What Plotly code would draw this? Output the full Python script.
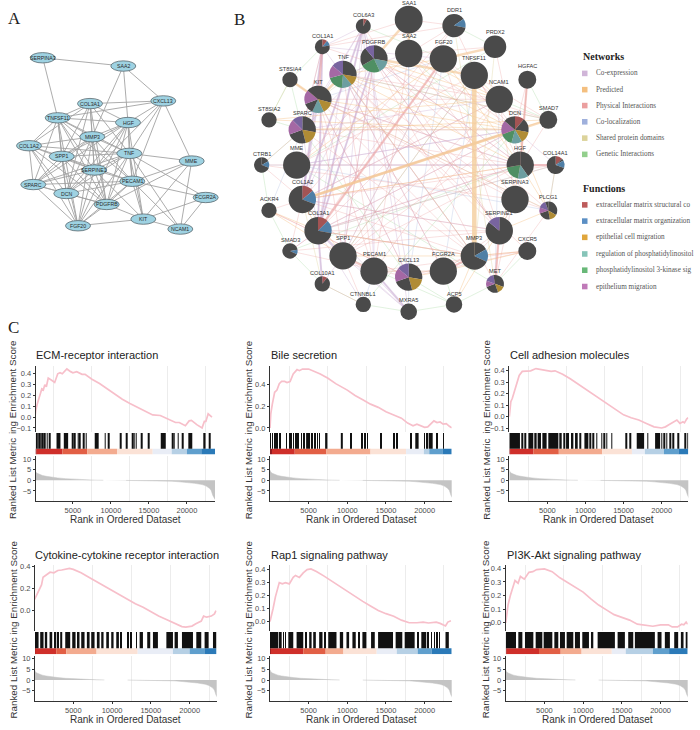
import plotly.graph_objects as go

W, H = 700, 730

# ---------- Panel A: STRING style network ----------
a_genes = ["SERPINA3","SAA2","CXCL13","COL3A1","TNFSF11","HGF","MMP3","COL1A2","SPP1","TNF","MME",
           "SERPINE1","PECAM1","SPARC","DCN","FCGR2A","PDGFRB","KIT","NCAM1","FGF20"]
a_x = [42.7,123.3,163.3,90,57.7,128,92.3,29,61.7,129.3,191.7,94.3,132.3,33.3,66.3,205.7,106.7,143.3,180.3,78]
a_y = [55,63.3,98.3,101,115.3,120,134.3,143.3,154,151,158.7,167.7,179,182.3,191.3,195.3,202.3,217,227,223.7]
a_edges = """SERPINA3-SAA2 SERPINA3-TNFSF11 SAA2-CXCL13 SAA2-HGF SAA2-MMP3 CXCL13-COL3A1 CXCL13-TNFSF11 CXCL13-HGF CXCL13-TNF CXCL13-MME CXCL13-PECAM1 CXCL13-SERPINE1
COL3A1-TNFSF11 COL3A1-MMP3 COL3A1-HGF COL3A1-TNF COL3A1-SPP1 COL3A1-SERPINE1 COL3A1-COL1A2 COL3A1-DCN COL3A1-PDGFRB
TNFSF11-HGF TNFSF11-MMP3 TNFSF11-COL1A2 TNFSF11-SPP1 TNFSF11-TNF TNFSF11-SERPINE1 TNFSF11-PECAM1 TNFSF11-SPARC TNFSF11-DCN TNFSF11-PDGFRB TNFSF11-FGF20
HGF-MMP3 HGF-SPP1 HGF-TNF HGF-SERPINE1 HGF-PECAM1 HGF-DCN HGF-PDGFRB HGF-KIT HGF-FGF20 HGF-SPARC
MMP3-COL1A2 MMP3-SPP1 MMP3-TNF MMP3-SERPINE1 MMP3-PECAM1 MMP3-SPARC MMP3-DCN MMP3-PDGFRB MMP3-FGF20
COL1A2-SPP1 COL1A2-SPARC COL1A2-DCN COL1A2-SERPINE1 COL1A2-PDGFRB COL1A2-TNF COL1A2-FGF20
SPP1-TNF SPP1-SERPINE1 SPP1-PECAM1 SPP1-SPARC SPP1-DCN SPP1-PDGFRB SPP1-FGF20
TNF-MME TNF-SERPINE1 TNF-PECAM1 TNF-SPARC TNF-DCN TNF-PDGFRB TNF-KIT TNF-NCAM1 TNF-FCGR2A TNF-FGF20
MME-PECAM1 MME-PDGFRB MME-KIT MME-NCAM1
SERPINE1-PECAM1 SERPINE1-SPARC SERPINE1-DCN SERPINE1-PDGFRB SERPINE1-FGF20 SERPINE1-KIT
PECAM1-FCGR2A PECAM1-PDGFRB PECAM1-KIT PECAM1-NCAM1 PECAM1-FGF20 PECAM1-SPARC PECAM1-DCN
SPARC-DCN SPARC-PDGFRB SPARC-FGF20 DCN-PDGFRB DCN-FGF20 FCGR2A-KIT FCGR2A-NCAM1 PDGFRB-KIT PDGFRB-FGF20 KIT-NCAM1 KIT-FGF20""".split()

# ---------- Panel B: GeneMANIA style network ----------
b_genes = ["SAA1","COL6A3","DDR1","PRDX2","COL1A1","PDGFRB","SAA2","FGF20","TNF","TNFSF11","ST8SIA4","HGFAC","KIT","NCAM1",
           "ST8SIA2","SMAD7","SPARC","DCN","CTRB1","MME","HGF","COL14A1","ACKR4","COL1A2","SERPINA3","PLCG1","COL3A1",
           "SERPINE1","SMAD3","CXCR5","SPP1","MMP3","COL10A1","PECAM1","CXCL13","FCGR2A","MET","CTNNBL1","ACP5","MXRA5"]
b_x = [408.7,363.3,454,495,322.3,374,408.7,443.3,343,474.3,290,527.3,318,499.3,269,548.3,302.3,515,261.7,296.7,520.3,555.7,
       269,302.3,515,548.3,318,499.3,290,527.3,343,474.3,322.3,374,408.7,443.3,495,363.3,454,408.7]
b_y = [16.7,23.3,22.7,44,44,56,50.7,56,71.7,72.7,77,77,96.7,96.7,117.3,117.3,127.3,127.3,162.7,162.7,162.7,162.7,
       208.3,197.3,197.3,208.3,228.7,228.7,249,249,254,254,282,269.3,275.3,269.3,282,302.7,302.7,310]
b_r = [14,7.5,11.7,11.3,7.5,13.7,13.7,13.7,13.7,13.7,7.7,9,13.7,13.7,7.7,9,13.7,13.7,7.7,13.7,13.7,9,
       7.7,13.7,13.7,9,13.7,13.7,7.7,9,13.7,13.7,7.7,13.7,13.7,13.7,9,7.7,8.3,8.3]
b_label_y = [0,12.3,7.5,29.3,33.3,39,33.3,39,54.7,55,66,63.7,79.7,79.7,106.7,105,110.7,110.7,151.7,145.7,145.7,150.7,
             197.3,180,180,195.3,211.3,211.3,238,237.3,236,236,271,252.3,257.7,252.3,269.3,291.7,291.7,298.7]
# pie slices in degrees, clockwise from twelve o'clock (d = no function)
b_slices = {
    "COL6A3": [("r",28),("d",332)],
    "DDR1": [("d",55),("b",45),("d",260)],
    "COL1A1": [("r",40),("b",40),("d",280)],
    "PDGFRB": [("d",100),("t",55),("g",85),("d",80),("p",40)],
    "TNF": [("d",100),("n",40),("t",45),("g",70),("m",55),("p",50)],
    "KIT": [("d",105),("n",50),("t",50),("d",45),("m",60),("d",50)],
    "SPARC": [("d",100),("n",65),("d",85),("m",65),("p",45)],
    "DCN": [("r",40),("d",60),("n",50),("t",45),("g",55),("m",60),("d",50)],
    "CTRB1": [("d",60),("b",50),("d",250)],
    "HGF": [("d",145),("t",45),("g",70),("d",100)],
    "COL14A1": [("r",45),("d",15),("b",50),("d",250)],
    "COL1A2": [("r",50),("b",60),("d",250)],
    "PLCG1": [("d",120),("n",50),("d",80),("m",40),("p",50),("d",20)],
    "COL3A1": [("r",45),("b",55),("d",260)],
    "SERPINE1": [("d",310),("p",50)],
    "SMAD3": [("d",80),("b",35),("d",245)],
    "MMP3": [("d",60),("b",55),("d",245)],
    "COL10A1": [("r",38),("d",322)],
    "CXCL13": [("d",100),("n",65),("d",85),("m",60),("p",50)],
    "MET": [("d",110),("n",50),("d",90),("m",40),("p",60),("d",10)],
}
slice_colors = {"d":"#4a4a4a","r":"#a35454","b":"#4f7fa6","n":"#b08c35","t":"#6c9ea0",
                "g":"#4f8f63","m":"#a468a4","p":"#78649f"}

edges_coexp = """COL6A3-COL3A1 COL6A3-COL1A2 COL6A3-COL1A1 COL6A3-SPARC COL6A3-PDGFRB COL6A3-KIT COL1A1-COL3A1 COL1A1-COL1A2 COL1A1-SPARC
PDGFRB-COL3A1 PDGFRB-COL1A2 PDGFRB-SPARC TNF-COL3A1 SPARC-COL3A1 SPARC-COL1A2 MXRA5-COL3A1 MXRA5-COL1A2 MXRA5-SPP1 MXRA5-COL6A3 MXRA5-PECAM1
COL10A1-COL3A1 COL10A1-SPP1 COL14A1-DCN COL14A1-COL3A1 DCN-COL1A2 DCN-COL3A1 DCN-SPARC DCN-MME HGF-COL3A1 HGF-PDGFRB HGF-KIT
SERPINE1-COL1A2 SERPINE1-PDGFRB MMP3-COL3A1 MMP3-COL1A1 MMP3-TNF FCGR2A-PECAM1 FCGR2A-TNF CXCL13-KIT CXCL13-COL6A3 MME-DCN MME-COL14A1
NCAM1-COL1A2 NCAM1-SPARC SMAD3-COL3A1 SPP1-COL6A3 SPP1-PDGFRB PECAM1-PDGFRB PECAM1-COL6A3 CTNNBL1-COL3A1 FGF20-COL1A1 SAA2-TNF""".split()
edges_coexp_thick = ["COL6A3-COL1A2","COL6A3-COL3A1","COL1A1-COL3A1","COL1A1-COL1A2","SPP1-COL3A1","PDGFRB-COL3A1","KIT-COL1A2","PECAM1-MXRA5","COL3A1-COL10A1"]

edges_pred = """COL1A2-HGF KIT-DCN SPARC-DCN ST8SIA2-DCN ST8SIA2-NCAM1 MME-FGF20 TNF-MMP3 PDGFRB-NCAM1 PDGFRB-DCN TNF-DCN TNF-HGF FGF20-HGF SAA2-NCAM1
SMAD7-DCN SMAD7-SPARC COL3A1-MMP3 SPP1-MMP3 FCGR2A-CXCR5 MMP3-CXCR5 PECAM1-FCGR2A CXCL13-FCGR2A SERPINE1-HGF SERPINE1-PLCG1 HGF-PLCG1 DCN-PLCG1
ACKR4-COL3A1 ACKR4-SPP1 ST8SIA4-KIT ACP5-SERPINE1 ACP5-MMP3 COL1A2-SPP1 COL1A2-COL3A1 FGF20-TNF TNFSF11-NCAM1""".split()
edges_pred_thick = ["TNFSF11-MMP3"]
edges_pred_mid = ["SAA1-SAA2","SAA1-PDGFRB","PDGFRB-TNFSF11","COL1A2-DCN","FGF20-PRDX2","TNF-KIT","ST8SIA4-KIT","SMAD7-COL1A2"]

edges_phys = """COL3A1-FGF20 COL3A1-TNFSF11 COL3A1-SERPINE1 COL3A1-DCN COL3A1-HGF COL3A1-MMP3 COL1A2-MMP3 COL1A2-SERPINE1 COL1A2-HGF COL1A2-NCAM1 COL1A2-COL14A1
SPP1-PDGFRB SPP1-KIT SPP1-TNFSF11 SPP1-FGF20 SPP1-NCAM1 SPP1-HGF SPP1-DCN PECAM1-KIT PECAM1-TNF PECAM1-SAA2 PECAM1-NCAM1 PECAM1-CXCR5
TNF-SERPINE1 TNF-SERPINA3 TNF-NCAM1 TNF-FCGR2A TNF-CXCR5 TNF-SMAD7 KIT-HGF KIT-SERPINA3 KIT-MMP3 KIT-NCAM1 KIT-CXCL13 KIT-PLCG1 PDGFRB-PLCG1 PDGFRB-MET PDGFRB-SERPINE1 PDGFRB-HGF
HGFAC-HGF HGFAC-DCN DDR1-COL1A2 DDR1-COL3A1 DDR1-SAA2 DDR1-HGF DDR1-COL1A1 MET-HGF MET-SERPINE1 MET-PLCG1 PLCG1-SERPINA3 PLCG1-COL14A1 COL14A1-HGF
SERPINE1-SERPINA3 SERPINE1-MMP3 SERPINE1-FCGR2A SERPINE1-COL6A3 MMP3-CXCL13 MMP3-CXCR5 MMP3-FCGR2A CTRB1-SERPINA3 CTRB1-COL1A2 CTRB1-MME CTRB1-SPARC ACKR4-CXCL13 ACKR4-COL1A2
SMAD3-SERPINE1 SMAD3-COL3A1 SMAD3-COL1A2 SMAD7-COL1A1 SMAD7-HGF CXCL13-ACKR4 CXCL13-CXCR5 CXCL13-SMAD3 MME-TNFSF11 MME-SAA2 MME-HGF SPARC-COL1A1 SPARC-MMP3 SPARC-HGF
CTNNBL1-COL10A1 CTNNBL1-SPP1 NCAM1-SERPINA3 NCAM1-FGF20 FGF20-SERPINE1 FGF20-DCN SAA1-DDR1 SAA1-COL1A1 SAA2-SERPINA3 SAA2-DCN TNFSF11-DCN TNFSF11-SMAD7 PRDX2-HGF PRDX2-SAA2""".split()
edges_phys_thick = ["COL3A1-FGF20","HGFAC-HGF","MMP3-FCGR2A","MET-SERPINE1","COL1A1-KIT","PECAM1-SPP1","COL14A1-HGF"]

edges_coloc = """SAA2-CXCL13 SPP1-FGF20 MME-PLCG1 NCAM1-MET FGF20-CXCL13 SPARC-ACKR4 CTNNBL1-PECAM1 TNFSF11-FCGR2A CTRB1-HGF KIT-FGF20 SAA2-MXRA5""".split()
edges_shared = """COL1A2-COL10A1 COL3A1-COL14A1 MMP3-PRDX2 ST8SIA2-ST8SIA4 SERPINA3-SERPINE1 DDR1-MET KIT-PDGFRB PLCG1-KIT HGF-HGFAC""".split()
edges_genetic = """ST8SIA4-ST8SIA2 ST8SIA4-SPARC ST8SIA2-SPARC CTRB1-ACKR4 ACKR4-SMAD3 SMAD3-COL10A1 COL10A1-CTNNBL1 CTNNBL1-MXRA5 MXRA5-ACP5 ACP5-CXCL13 ACP5-FCGR2A MET-ACP5
CXCR5-MET COL14A1-PLCG1 SMAD7-HGFAC NCAM1-SMAD7 DDR1-PRDX2 PRDX2-MME CTRB1-SPARC COL1A1-ST8SIA4 COL6A3-FGF20 SAA2-HGF HGF-SMAD3 MME-MET SPARC-CXCL13 DCN-CTNNBL1 ACP5-SPP1 TNFSF11-SPP1 SMAD7-TNF""".split()

network_names = ["Co-expression","Predicted","Physical Interactions","Co-localization","Shared protein domains","Genetic Interactions"]
network_colors = ["#d0b5d8","#f4bf7f","#eb9f9f","#9fb0dc","#dcd39b","#93cf8d"]
function_names = ["extracellular matrix structural co","extracellular matrix organization","epithelial cell migration",
                  "regulation of phosphatidylinositol","phosphatidylinositol 3-kinase sig","epithelium migration"]
function_colors = ["#bd5b5b","#5b8fc4","#e0a63c","#86c4b8","#68b878","#c07ab8"]

# ---------- Panel C: GSEA plots ----------
titles = ["ECM-receptor interaction","Bile secretion","Cell adhesion molecules",
          "Cytokine-cytokine receptor interaction","Rap1 signaling pathway","PI3K-Akt signaling pathway"]
es_rank = [
 [1,100,300,500,800,900,1100,1300,1500,1750,2200,2600,3000,3300,3600,4200,4700,5000,5500,6200,6600,7500,8500,9500,10500,11500,12500,13500,14500,15500,16500,17500,18500,19000,19800,20300,20600,21300,22000,22300,22500,22800,23300],
 [1,100,300,600,900,1200,1500,1900,2200,2600,3000,3500,3800,4200,5000,5800,6500,7500,8500,10000,11000,12000,13000,14000,15000,16000,17000,17800,18500,19000,20000,20400,21000,21200,21600,22000,22400,22800,23200,23500],
 [1,100,200,400,700,1000,1300,1700,2300,2800,3500,4000,5000,5500,6000,7000,8000,9000,10000,11000,12000,13000,14000,15000,16000,17000,18000,19000,20000,20500,21000,21700,22000,22400,22800,23000,23300,23500],
 [1,200,500,900,1100,1500,2000,2500,3000,3500,4000,4500,5000,6000,7000,8000,9000,10000,11000,12000,13000,14000,15000,16000,17000,18000,19000,19500,20300,20800,21500,21800,22200,22800,23200,23400],
 [1,200,400,700,1000,1200,1600,2000,2500,3000,3300,3800,4300,4800,5300,6000,7000,8000,9000,10000,11000,12000,13000,14000,15000,16000,17000,18000,19000,19800,20500,21000,21500,22000,22700,23000,23400],
 [1,100,300,600,1000,1200,1600,1900,2400,3000,3500,4000,5000,6000,7000,8000,9000,10000,11000,12000,13000,14000,15000,16000,17000,18000,19000,20000,21000,21500,22200,22700,23000,23300,23500],
]
es_score = [
 [0,0.06,0.12,0.17,0.23,0.26,0.25,0.30,0.28,0.36,0.34,0.32,0.40,0.41,0.40,0.445,0.42,0.41,0.42,0.395,0.395,0.35,0.31,0.26,0.21,0.165,0.125,0.09,0.05,0.02,0.015,-0.02,-0.05,-0.05,-0.08,-0.035,-0.03,-0.07,-0.10,-0.04,-0.04,0.03,0.0],
 [0,0.13,0.22,0.33,0.35,0.41,0.43,0.43,0.42,0.43,0.50,0.54,0.53,0.545,0.545,0.52,0.50,0.46,0.41,0.35,0.30,0.26,0.22,0.19,0.15,0.12,0.09,0.045,0.02,0.035,0.005,0.01,0.05,0.065,0.05,0.055,0.035,0.04,0.015,0.0],
 [0,0.08,0.13,0.16,0.22,0.28,0.36,0.395,0.395,0.40,0.42,0.415,0.40,0.395,0.40,0.37,0.33,0.285,0.24,0.19,0.15,0.105,0.06,0.015,-0.01,-0.03,-0.06,-0.09,-0.10,-0.09,-0.07,-0.045,-0.03,-0.06,-0.045,-0.055,-0.02,-0.01],
 [0.10,0.13,0.18,0.23,0.30,0.32,0.345,0.34,0.36,0.365,0.375,0.38,0.37,0.34,0.30,0.26,0.22,0.185,0.14,0.10,0.06,0.03,-0.01,-0.05,-0.08,-0.11,-0.145,-0.15,-0.14,-0.12,-0.095,-0.05,-0.06,-0.05,-0.03,0.0],
 [0.0,0.04,0.10,0.19,0.25,0.30,0.29,0.30,0.29,0.34,0.355,0.34,0.375,0.40,0.405,0.385,0.35,0.31,0.275,0.235,0.19,0.155,0.12,0.085,0.06,0.04,0.01,-0.01,-0.01,-0.005,-0.012,-0.01,-0.005,-0.015,-0.035,-0.005,0.005],
 [0,0.05,0.13,0.20,0.27,0.31,0.29,0.34,0.32,0.37,0.375,0.39,0.395,0.375,0.33,0.295,0.26,0.225,0.175,0.13,0.095,0.06,0.04,0.02,-0.01,-0.02,-0.025,-0.015,-0.015,-0.03,-0.03,-0.01,-0.015,0.005,-0.01],
]
# gene hit positions as (first rank, last rank) of each visible tick or block
hits = [
 [(220,220),(440,440),(610,610),(830,830),(1050,1050),(1310,1310),(1620,1620),(1920,1920),(2840,3360),(3800,4370),(4980,4980),(5200,5200),(5680,5680),(5900,5900),(6420,6420),(6770,6770),(7870,8390),(9260,9260),(9700,9700),(11320,11320),(12100,12100),(12850,12850),(13070,13070),(13330,13330),(14070,14070),(14950,14950),(16560,17220),(18140,18140),(18350,18350),(18880,18880),(19450,19450),(20190,20710),(22160,22460),(23030,23030)],
 [(90,90),(300,300),(560,560),(780,780),(1000,1000),(1300,1300),(2160,2160),(2500,2500),(2720,2720),(3020,3020),(3330,3330),(3590,3590),(4100,4100),(4400,4400),(4670,5180),(5400,5400),(5830,5830),(6130,6130),(6400,6400),(7130,7430),(9160,9420),(10450,10450),(11880,11880),(12310,12310),(12610,12610),(14390,14390),(16070,16070),(16420,16420),(18270,18270),(18790,19220),(19960,19960),(20300,20300),(20520,21040),(21600,21600),(22460,22460)],
 [(0,1400),(1620,1840),(2060,2190),(2500,3150),(3370,3590),(3720,4160),(4340,4900),(5120,6440),(6660,6880),(7100,7310),(7450,7840),(8100,8410),(8630,8980),(9290,9290),(9860,10380),(10600,10600),(11040,11040),(11480,11480),(12130,12130),(12480,12480),(12790,12790),(13450,13450),(15330,15330),(15860,15860),(16730,17700),(18180,18180),(19140,19800),(20020,20020),(20370,20370),(20670,20670),(21110,21110),(21550,21550),(22210,22210),(23080,23080),(23450,23450)],
 [(0,520),(730,1160),(1330,1630),(1940,2280),(2580,2800),(3010,3140),(3310,3570),(3960,4600),(4860,5290),(5590,5800),(6020,6450),(6750,7100),(7310,7740),(8040,8390),(8600,8900),(9250,9590),(9890,10190),(10540,10880),(11180,11180),(12040,12040),(12470,12470),(13120,13120),(13550,13980),(14530,14920),(15270,15910),(17000,17850),(18060,18490),(19010,20430),(20860,21500),(21930,22450),(23010,23440)],
 [(0,1080),(1290,1510),(1720,1720),(2020,2020),(2370,3010),(3440,4300),(4640,4640),(5070,5380),(5590,5930),(6360,6790),(7100,7100),(7530,8600),(9030,9460),(9890,10230),(10660,11090),(11520,11520),(11950,12470),(13070,13550),(13980,15910),(16250,17110),(17420,18710),(19140,19140),(19570,20210),(20430,20430),(20860,20860),(21290,21290),(21590,21590),(21930,21930),(22700,23130)],
 [(0,1330),(1630,2150),(2490,3570),(3870,4730),(4900,6020),(6280,6790),(7010,7650),(7870,8730),(8940,9590),(9890,10750),(11010,11310),(11870,14100),(14450,15390),(15820,16470),(16680,19260),(19610,20120),(20550,21200),(21760,22270),(22620,22960),(23350,23350)],
]
band_edges = [
 [0,200,3600,6900,10800,15500,18000,20000,21900,23700],
 [0,250,3200,7300,13000,17600,19900,20600,22300,23500],
 [0,100,3150,6500,12200,16100,17800,20300,22200,23500],
 [0,100,2800,4100,8000,13300,17850,20000,21900,23450],
 [0,100,4300,7200,9500,13800,16400,19100,20900,23500],
 [0,100,4300,7100,9800,13700,15500,19000,21100,23500],
]
band_colors = ["#8e1a1f","#cf2f2a","#e25f45","#f3ab8f","#fbe2d6","#e9edf6","#b6d0e5","#5f9fcd","#2b7ab8"]
metric_rank = [1,100,300,600,1000,1500,2000,3000,4000,5000,6000,7000,8000,9000,None,12000,14000,16000,18000,19000,20000,21000,22000,22500,23000,23200,23400,23700]
metric_value = [4.8,3.9,3.3,2.8,2.3,1.9,1.6,1.15,0.8,0.55,0.35,0.2,0.08,0.03,None,-0.03,-0.1,-0.2,-0.4,-0.7,-1.0,-1.4,-2.0,-2.6,-3.8,-4.8,-7.0,-9.0]
rank_ticks = [5000,10000,15000,20000]
es_ticks = [[-0.1,0,0.1,0.2,0.3,0.4],[0,0.2,0.4],[-0.1,0,0.1,0.2,0.3,0.4],[0,0.2,0.4],[0,0.1,0.2,0.3,0.4],[0,0.1,0.2,0.3,0.4]]
es_ranges = [[-0.14,0.474],[-0.04,0.575],[-0.137,0.444],[-0.188,0.41],[-0.077,0.436],[-0.063,0.424]]
x_ranges = [[100,23700],[0,23500],[0,23500],[60,23490],[0,23500],[0,23500]]
metric_ticks = [-5,0,5,10]
metric_ranges = [[-9.7,11.4],[-9.7,11.4],[-9.7,11.4],[-9.8,11.3],[-9.8,11.3],[-9.8,11.3]]

# pixel geometry of the six panels (left, right, title x, x-label centre, y-label x)
panel_left = [35.7,270,509.3,35,270,505.7]
panel_right = [215,451.7,688.3,216.7,451.7,687.7]
title_x = [34,269,507.5,33.3,269,504.5]
xlabel_x = [125.3,361,598.7,125.7,361,597]
ylabel_x = [12,248.3,485.7,13.3,248.3,485]
# rows: ES top/bottom, strip top, metric top/bottom, title y, x label y, ES label y, metric label y
rows = [dict(es=(364.3,431), strip=(431.7,453.3), met=(455,500), title=353.3, xlab=519, esl=385.7, metl=478),
        dict(es=(564.3,631), strip=(631.7,654), met=(655.7,700.7), title=554, xlab=719.3, esl=586.7, metl=678)]

fig = go.Figure()
def px_x(p): return p/W
def px_y(p): return 1-p/H

annots, shapes = [], []
def ann(x, y, text, size, color="#333333", family="Liberation Sans", xanchor="center", angle=0):
    annots.append(dict(x=px_x(x), y=px_y(y), xref="paper", yref="paper", text=text, showarrow=False,
                       xanchor=xanchor, yanchor="middle", textangle=angle,
                       font=dict(size=size, color=color, family=family)))

def segs(edges, names, xs, ys):
    ex, ey = [], []
    for e in edges:
        a, b = e.split("-")
        i, j = names.index(a), names.index(b)
        ex += [xs[i], xs[j], None]
        ey += [ys[i], ys[j], None]
    return ex, ey

def net_line(edges, names, xs, ys, color, width):
    ex, ey = segs(edges, names, xs, ys)
    fig.add_trace(go.Scatter(x=ex, y=ey, mode="lines", line=dict(color=color, width=width),
                             hoverinfo="skip", showlegend=False, xaxis="x", yaxis="y"))

# Panel A
net_line(a_edges, a_genes, a_x, a_y, "#a3a3a3", 0.9)
for g, x, y in zip(a_genes, a_x, a_y):
    shapes.append(dict(type="circle", xref="x", yref="y", x0=x-12.5, x1=x+12.5, y0=y-5.2, y1=y+5.2,
                       fillcolor="#9ed2e2", line=dict(color="#5a6a70", width=0.8), layer="above"))
    ann(x, y, g, 5.2, color="#2a2a2a")

# Panel B edges
net_line(edges_genetic, b_genes, b_x, b_y, "rgba(147,207,141,0.4)", 0.7)
net_line(edges_shared, b_genes, b_x, b_y, "rgba(220,211,155,0.45)", 0.8)
net_line(edges_coloc, b_genes, b_x, b_y, "rgba(159,176,220,0.4)", 0.7)
net_line(edges_coexp, b_genes, b_x, b_y, "rgba(208,181,216,0.45)", 0.9)
net_line(edges_coexp_thick, b_genes, b_x, b_y, "rgba(200,170,210,0.5)", 2.0)
net_line(edges_phys, b_genes, b_x, b_y, "rgba(235,159,159,0.35)", 0.9)
net_line(edges_phys_thick, b_genes, b_x, b_y, "rgba(235,165,165,0.6)", 2.2)
net_line(edges_pred, b_genes, b_x, b_y, "rgba(244,191,127,0.4)", 1.0)
net_line(edges_pred_mid, b_genes, b_x, b_y, "rgba(244,200,150,0.65)", 2.4)
net_line(edges_pred_thick, b_genes, b_x, b_y, "rgba(244,205,155,0.8)", 4.5)

# Panel B nodes as pies
for g, x, y, r, ly in zip(b_genes, b_x, b_y, b_r, b_label_y):
    sl = b_slices.get(g, [("d",360)])
    fig.add_trace(go.Pie(values=[s[1] for s in sl], marker=dict(colors=[slice_colors[s[0]] for s in sl],
                         line=dict(width=0)), sort=False, direction="clockwise", rotation=0,
                         textinfo="none", hoverinfo="skip", showlegend=False,
                         domain=dict(x=[(x-r)/W,(x+r)/W], y=[1-(y+r)/H,1-(y-r)/H])))
    ann(x, ly, g, 5.6, color="#333333")

# Legends
ann(581, 54, "<b>Networks</b>", 10, color="#222222", family="Liberation Serif", xanchor="left")
ann(581, 186, "<b>Functions</b>", 10, color="#222222", family="Liberation Serif", xanchor="left")
leg_y1 = [70.7,87,103,119.3,135.7,152]
leg_y2 = [202.7,219,235.3,252,268.3,284.7]
for names, cols, ys in ((network_names, network_colors, leg_y1), (function_names, function_colors, leg_y2)):
    for n_, c, y in zip(names, cols, ys):
        shapes.append(dict(type="rect", xref="paper", yref="paper", x0=px_x(582), x1=px_x(587.5),
                           y0=px_y(y+2.8), y1=px_y(y-2.8), fillcolor=c, line=dict(width=0)))
        ann(593.5, y, n_, 7.2, color="#555555", family="Liberation Serif", xanchor="left")

ann(14, 16, "A", 17, color="#222222", family="Liberation Serif")
ann(239, 17, "B", 17, color="#222222", family="Liberation Serif")
ann(13, 326, "C", 17, color="#222222", family="Liberation Serif")

layout = dict(
    width=W, height=H, margin=dict(l=0,r=0,t=0,b=0), paper_bgcolor="white", plot_bgcolor="rgba(0,0,0,0)",
    barmode="overlay", showlegend=False,
    xaxis=dict(domain=[0,1], range=[0,W], visible=False, fixedrange=True),
    yaxis=dict(domain=[0,1], range=[H,0], visible=False, fixedrange=True),
)

AX = "#333333"; TK = "#4d4d4d"
n = 2
for p in range(6):
    row = rows[p//3]
    dom = [px_x(panel_left[p]), px_x(panel_right[p])]
    ids = [n, n+1, n+2]; n += 3
    minor = dict(tickmode="array", tickvals=[2500,7500,12500,17500,22500], showgrid=True, gridcolor="#ececec", gridwidth=1, ticks="")
    # ES
    layout[f"xaxis{ids[0]}"] = dict(domain=dom, anchor=f"y{ids[0]}", range=x_ranges[p], showgrid=False, zeroline=False, showline=False,
                                    showticklabels=False, ticks="", tickvals=rank_ticks, minor=minor)
    layout[f"yaxis{ids[0]}"] = dict(domain=[px_y(row["es"][1]), px_y(row["es"][0])], anchor=f"x{ids[0]}", range=es_ranges[p],
                                    tickvals=es_ticks[p], tickformat=".1f", showgrid=False, zeroline=False, showline=True, linecolor=AX, linewidth=1,
                                    ticks="outside", ticklen=2, tickcolor=AX, tickwidth=0.7, tickfont=dict(size=7.5, color=TK, family="Liberation Sans"))
    fig.add_trace(go.Scatter(x=es_rank[p], y=es_score[p], mode="lines", line=dict(color="#f7bfca", width=1.7),
                             hoverinfo="skip", xaxis=f"x{ids[0]}", yaxis=f"y{ids[0]}"))
    # hit strip and colour band
    layout[f"xaxis{ids[1]}"] = dict(domain=dom, anchor=f"y{ids[1]}", range=x_ranges[p], visible=False)
    layout[f"yaxis{ids[1]}"] = dict(domain=[px_y(row["strip"][1]), px_y(row["strip"][0])], anchor=f"x{ids[1]}", range=[0,1], visible=False)
    e = band_edges[p]
    fig.add_trace(go.Bar(x=[(a+b)/2 for a,b in zip(e[:-1],e[1:])], width=[b-a for a,b in zip(e[:-1],e[1:])],
                         y=[0.27]*len(band_colors), base=0, marker=dict(color=band_colors, line=dict(width=0)),
                         hoverinfo="skip", xaxis=f"x{ids[1]}", yaxis=f"y{ids[1]}"))
    fig.add_trace(go.Bar(x=[(a+b)/2 for a,b in hits[p]], width=[max(b-a,70) for a,b in hits[p]],
                         y=[0.73]*len(hits[p]), base=0.27, marker=dict(color="#111111", line=dict(width=0)),
                         hoverinfo="skip", xaxis=f"x{ids[1]}", yaxis=f"y{ids[1]}"))
    # ranked metric
    layout[f"xaxis{ids[2]}"] = dict(domain=dom, anchor=f"y{ids[2]}", range=x_ranges[p], showgrid=False, zeroline=False, showline=True,
                                    linecolor=AX, linewidth=1, ticks="outside", ticklen=2, tickcolor=AX, tickwidth=0.7, tickvals=rank_ticks, tickformat="d",
                                    tickfont=dict(size=7.5, color=TK, family="Liberation Sans"), minor=minor)
    layout[f"yaxis{ids[2]}"] = dict(domain=[px_y(row["met"][1]), px_y(row["met"][0])], anchor=f"x{ids[2]}", range=metric_ranges[p],
                                    tickvals=metric_ticks, showgrid=False, zeroline=False, showline=True, linecolor=AX, linewidth=1,
                                    ticks="outside", ticklen=2, tickcolor=AX, tickwidth=0.7, tickfont=dict(size=7.5, color=TK, family="Liberation Sans"))
    fig.add_trace(go.Scatter(x=metric_rank, y=metric_value, mode="lines", fill="tozeroy", fillcolor="#c4c4c4",
                             line=dict(color="#c4c4c4", width=0.5), hoverinfo="skip", connectgaps=False,
                             xaxis=f"x{ids[2]}", yaxis=f"y{ids[2]}"))
    ann(title_x[p], row["title"], titles[p], 11, color="#222222", xanchor="left")
    ann(xlabel_x[p], row["xlab"], "Rank in Ordered Dataset", 10)
    ann(ylabel_x[p], row["esl"], "ing Enrichment Score", 9.8, angle=-90)
    ann(ylabel_x[p], row["metl"], "Ranked List Metric", 9.8, angle=-90)

layout["annotations"] = annots
layout["shapes"] = shapes
fig.update_layout(**layout)
fig.write_html("out.html", config={"displayModeBar": False},
               post_script="document.body.style.margin='0';document.body.style.overflow='hidden';")
